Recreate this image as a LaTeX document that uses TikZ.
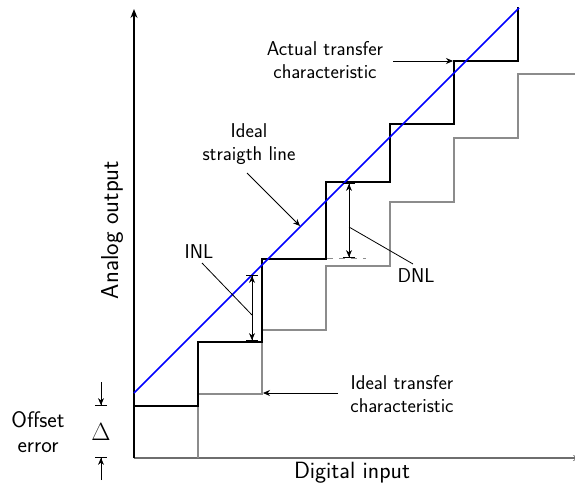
\documentclass[tikz,border=0pt]{standalone}
\usetikzlibrary{arrows.meta}
\definecolor{idealgray}{RGB}{140,140,140}
\definecolor{axisgray}{RGB}{110,110,110}
\begin{document}
\begin{tikzpicture}[x=1pt,y=-1pt,
  lbl/.style={font=\sffamily\fontsize{20}{22.5}\selectfont, align=center, inner sep=0pt},
  axlbl/.style={font=\sffamily\fontsize{23.5}{26}\selectfont, inner sep=0pt},
  leader/.style={line width=0.8pt},
  leadarrow/.style={line width=0.8pt, -{Stealth[length=7pt,width=6pt]}},
  measure/.style={line width=0.9pt, {Bar[width=12pt]Stealth[length=7pt,width=6pt]}-{Stealth[length=7pt,width=6pt]Bar[width=12pt]}},
  ideal/.style={idealgray, line width=2.2pt},
  actual/.style={black, line width=2.2pt},
]
\useasboundingbox (0,0) rectangle (575,489);

% axes
\coordinate (O) at (134,458);
\coordinate (ytop) at (134,9);
\coordinate (xend) at (581,458);
\draw[axisgray, line width=1.3pt, -{Stealth[length=8pt,width=6pt]}] (O) -- (xend);
\draw[black, line width=1.3pt, -{Stealth[length=9pt,width=7pt]}] (O) -- (ytop);

% ideal transfer characteristic (gray)
\draw[ideal] (198,458) -- (198,394) -- (262,394) -- (262,330) -- (326,330) -- (326,266)
  -- (390,266) -- (390,202) -- (454,202) -- (454,138) -- (518,138) -- (518,74) -- (576,74);

% actual transfer characteristic (black)
\draw[actual] (134,406) -- (198,406) -- (198,342) -- (262,342) -- (262,259) -- (326,259)
  -- (326,182) -- (390,182) -- (390,124) -- (454,124) -- (454,61) -- (518,61) -- (518,7);

% ideal straight line (blue)
\coordinate (b0) at (134,393);
\coordinate (b1) at (519,8);
\draw[blue, line width=1.6pt] (b0) -- (b1);

% labels
\node[axlbl] (xl) at (352,473) {Digital input};
\node[font=\sffamily\fontsize{24.5}{27}\selectfont, inner sep=0pt, rotate=90] (yl) at (112,230) {Analog output};

\node[font=\sffamily\fontsize{22.5}{25}\selectfont, align=center, inner sep=0pt] (off) at (38,432) {Offset\\error};
\node[inner sep=0pt, font=\fontsize{26}{30}\selectfont] (delta) at (101,432) {$\Delta$};
\coordinate (o1) at (101,382);
\coordinate (o2) at (101,406);
\coordinate (o3) at (101,480);
\coordinate (o4) at (101,457);
\draw[line width=0.9pt, -{Stealth[length=7pt,width=6pt]Bar[width=12pt]}] (o1) -- (o2);
\draw[line width=0.9pt, -{Stealth[length=7pt,width=6pt]Bar[width=12pt]}] (o3) -- (o4);

% INL
\coordinate (inlt) at (252,275);
\coordinate (inlb) at (252,341);
\draw[measure] (inlt) -- (inlb);
\node[lbl] (inl) at (199,252) {INL};
\coordinate (inlp) at (252,315);
\draw[leader] (202,263) -- (inlp);

% DNL
\draw[idealgray, line width=1pt, dash pattern=on 6pt off 6pt] (327,258) -- (366,258);
\coordinate (dnlt) at (349,183);
\coordinate (dnlb) at (349,258);
\draw[measure] (dnlt) -- (dnlb);
\node[lbl] (dnl) at (416,276) {DNL};
\coordinate (dnlp) at (349,227);
\draw[leader] (dnlp) -- (413,264);

% ideal straight line label
\node[lbl] (isl) at (249,144) {Ideal\\straigth line};
\coordinate (islp) at (300,226);
\draw[leadarrow] (247,173) -- (islp);

% actual transfer characteristic label
\node[lbl] (atc) at (325,60) {Actual transfer\\characteristic};
\coordinate (atcp) at (453,61);
\draw[leadarrow] (393,61) -- (atcp);

% ideal transfer characteristic label
\node[lbl] (itc) at (402,394) {Ideal transfer\\characteristic};
\coordinate (itcp) at (263,393);
\draw[leadarrow] (338,393) -- (itcp);
\end{tikzpicture}
\end{document}
